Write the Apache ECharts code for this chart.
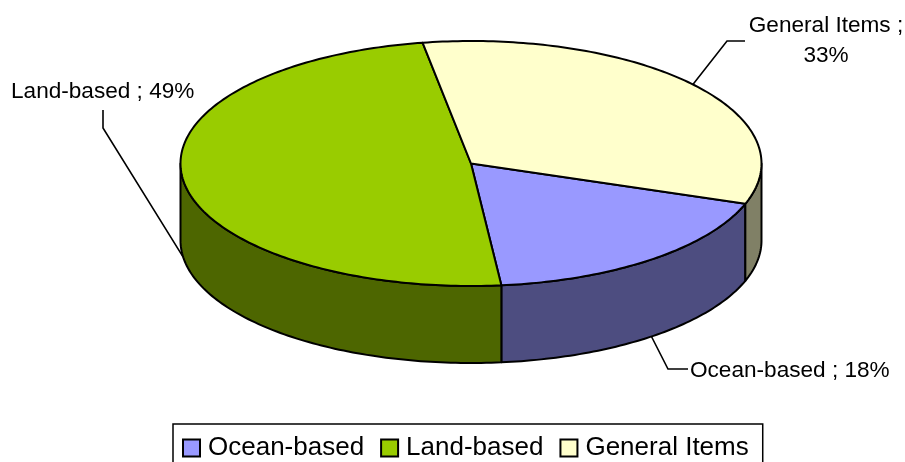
<!DOCTYPE html>
<html>
<head>
<meta charset="utf-8">
<style>html,body{margin:0;padding:0;background:#fff}#main{width:905px;height:462px}</style>
<script src="https://cdn.jsdelivr.net/npm/echarts@6/dist/echarts.min.js"></script>
</head>
<body>
<div id="main"></div>
<script>
var categories = ['Ocean-based', 'Land-based', 'General Items'];
var values = [18, 49, 33];
var topColors = ['#9999FF', '#99CC00', '#FFFFCC'];
var wallColors = ['#4D4D80', '#4D6600', '#808066'];

// layout of the tilted pie
var cx = 471, cy = 163.5, rx = 290.5, ry = 122.5, depth = 77, startAngle = 19.2;
var lineColor = '#000';

var total = values.reduce(function (a, b) { return a + b; }, 0);

function rad(d) { return d * Math.PI / 180; }
function pt(deg, dy) {
    return [cx + rx * Math.cos(rad(deg)), cy + ry * Math.sin(rad(deg)) + (dy || 0)];
}
function arc(from, to, dy) {
    var pts = [], n = Math.max(2, Math.ceil(Math.abs(to - from)));
    for (var i = 0; i <= n; i++) pts.push(pt(from + (to - from) * i / n, dy));
    return pts;
}
function sliceRange(idx) {
    var a = startAngle;
    for (var i = 0; i < idx; i++) a += values[i] / total * 360;
    return [a, a + values[idx] / total * 360];
}
// parts of the slice that face the viewer (0-180 clockwise from 3 o'clock)
function frontRange(r) {
    for (var k = 0; k <= 360; k += 360) {
        var a = Math.max(r[0], k), b = Math.min(r[1], k + 180);
        if (b > a) return [a, b];
    }
    return null;
}

function renderSlice(params, api) {
    var idx = api.value(0);
    var r = sliceRange(idx);
    var children = [];
    var f = frontRange(r);
    var style = { lineWidth: 2, stroke: lineColor, lineJoin: 'round' };
    if (f) {
        var wall = arc(f[0], f[1], 0).concat(arc(f[1], f[0], depth));
        children.push({
            type: 'polygon',
            shape: { points: wall },
            style: Object.assign({ fill: wallColors[idx] }, style)
        });
    }
    children.push({
        type: 'polygon',
        shape: { points: [[cx, cy]].concat(arc(r[0], r[1], 0)) },
        style: Object.assign({ fill: topColors[idx] }, style)
    });
    return { type: 'group', children: children };
}

// leader lines start on the rim at the middle of each slice
var labelBoxes = [
    { x: 690, y: 371, align: 'left', elbow: [[668, 369], [688, 369]], text: function (n, v) { return n + ' ; ' + v + '%'; } },
    { x: 11, y: 92, align: 'left', elbow: [[103, 128], [103, 110]], text: function (n, v) { return n + ' ; ' + v + '%'; } },
    { x: 826, y: 41, align: 'center', elbow: [[727, 41], [745, 41]], text: function (n, v) { return n + ' ;\n' + v + '%'; } }
];

function renderLabel(params, api) {
    var idx = api.value(0), r = sliceRange(idx), mid = (r[0] + r[1]) / 2;
    var onFront = Math.sin(rad(mid)) > 0;
    var box = labelBoxes[idx];
    return {
        type: 'group',
        children: [{
            type: 'polyline',
            shape: { points: [pt(mid, onFront ? depth : 0)].concat(box.elbow) },
            style: { stroke: lineColor, lineWidth: 1.6, fill: null }
        }, {
            type: 'text',
            x: box.x, y: box.y,
            style: {
                text: box.text(categories[idx], values[idx]),
                fill: '#000',
                font: '22.6px "Liberation Sans"',
                align: box.align,
                verticalAlign: 'middle',
                lineHeight: 30
            }
        }]
    };
}

var chart = echarts.init(document.getElementById('main'));

var series = categories.map(function (name, i) {
    return {
        name: name,
        type: 'custom',
        coordinateSystem: 'none',
        silent: true,
        animation: false,
        itemStyle: { color: topColors[i], borderColor: lineColor, borderWidth: 2 },
        renderItem: renderSlice,
        data: [[i, values[i]]]
    };
});
series.push({
    type: 'custom',
    coordinateSystem: 'none',
    silent: true,
    animation: false,
    z: 5,
    renderItem: renderLabel,
    data: categories.map(function (n, i) { return [i, values[i]]; })
});

var option = {
    animation: false,
    legend: {
        show: true,
        data: categories,
        left: 173,
        top: 424,
        orient: 'horizontal',
        icon: 'rect',
        itemWidth: 17,
        itemHeight: 17,
        itemGap: 16,
        padding: [11, 14, 14, 9],
        borderColor: '#000',
        borderWidth: 1.5,
        selectedMode: false,
        textStyle: { color: '#000', fontFamily: 'Liberation Sans', fontSize: 26, padding: [0, 0, 0, 3] }
    },
    series: series
};
chart.setOption(option);
</script>
</body>
</html>
